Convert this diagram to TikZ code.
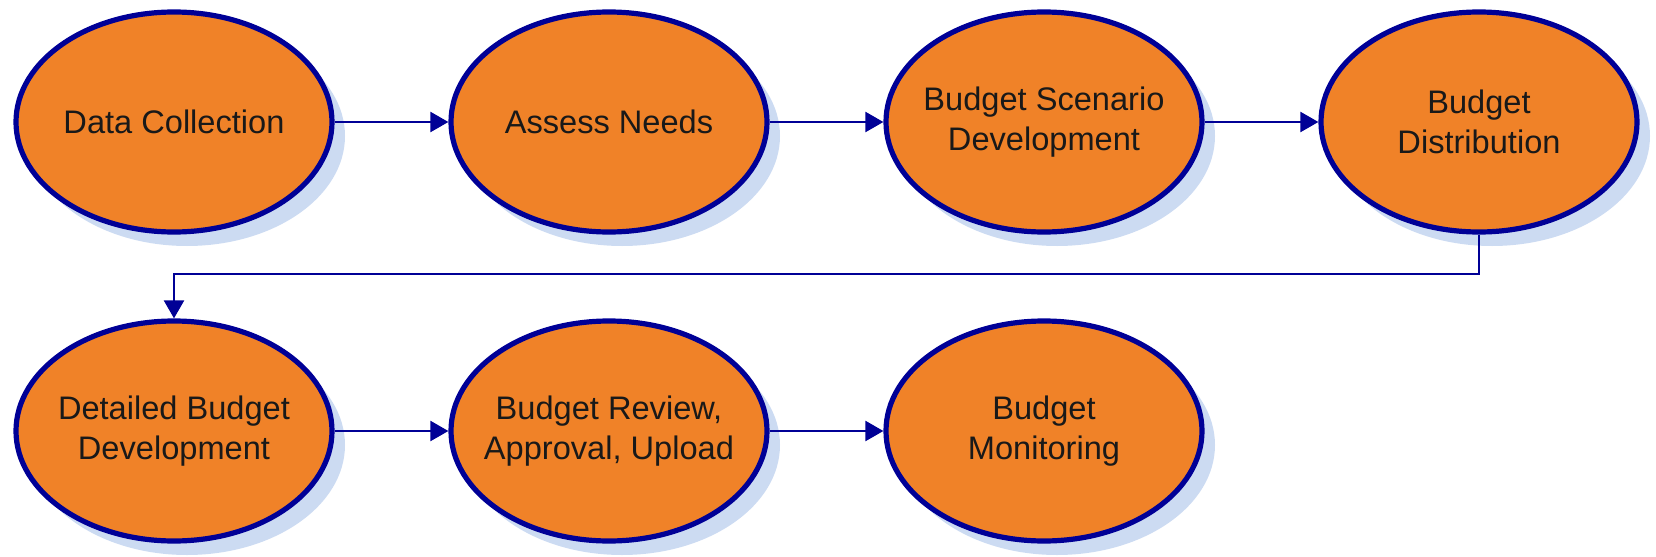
\documentclass[tikz,border=0pt]{standalone}
\usepackage{fontspec}
\setmainfont{Liberation Sans}
\usetikzlibrary{shapes.geometric,arrows.meta,shadows}
\definecolor{stepfill}{HTML}{F08228}
\definecolor{stepline}{HTML}{000096}
\definecolor{stepshade}{HTML}{CCDBF2}
\begin{document}
\begin{tikzpicture}[x=0.5pt,y=-0.5pt,
  stepnode/.style={ellipse, draw=stepline, line width=2.6pt, fill=stepfill,
    minimum width=158pt, minimum height=110pt, inner sep=0pt,
    drop shadow={shadow xshift=6.5pt, shadow yshift=-7pt, fill=stepshade, opacity=1},
    label={[align=center, font=\fontsize{16.3}{20}\selectfont, text=black!90]center:#1}},
  flow/.style={draw=stepline, line width=1.1pt, -{Triangle[length=9pt,width=10pt]}}]
\useasboundingbox (0,0) rectangle (1656,557);
% first row
\node[stepnode={Data Collection}] (collect) at (174,122) {};
\node[stepnode={Assess Needs}] (assess) at (609,122) {};
\node[stepnode={Budget Scenario\\Development}] (scen) at (1044,122) {};
\node[stepnode={Budget\\Distribution}] (distr) at (1479,122) {};
% second row
\node[stepnode={Detailed Budget\\Development}] (detail) at (174,431) {};
\node[stepnode={Budget Review,\\Approval, Upload}] (review) at (609,431) {};
\node[stepnode={Budget\\Monitoring}] (monitor) at (1044,431) {};
% connectors
\draw[flow] (collect.east) -- (assess.west);
\draw[flow] (assess.east) -- (scen.west);
\draw[flow] (scen.east) -- (distr.west);
\coordinate (turn) at (1479,274);
\draw[flow] (distr.south) -- (turn) -| (detail.north);
\draw[flow] (detail.east) -- (review.west);
\draw[flow] (review.east) -- (monitor.west);
\end{tikzpicture}
\end{document}
